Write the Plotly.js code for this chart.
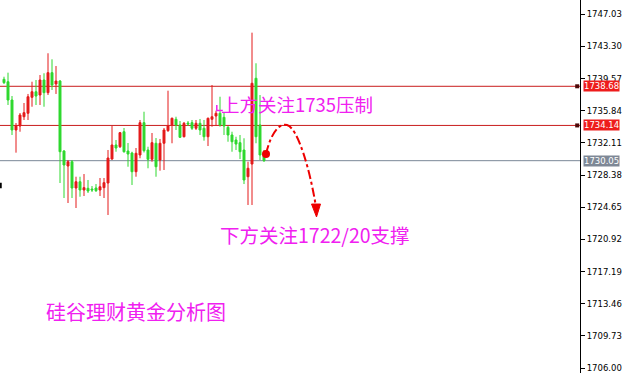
<!DOCTYPE html>
<html>
<head>
<meta charset="utf-8">
<script src="https://cdn.plot.ly/plotly-3.0.1.min.js"></script>
<style>
  html, body { margin: 0; padding: 0; background: #fff; }
  #chart { width: 630px; height: 373px; }
</style>
</head>
<body>
<div id="chart"></div>
<script>
// Gold (XAUUSD) short-term candles, oldest to newest
const openPrices = [
  1739.49, 1739.21, 1737.09, 1733.61, 1734.07, 1735.15, 1735.55, 1737.40, 1738.05, 1737.67,
  1739.41, 1737.94, 1740.26, 1738.95, 1739.29, 1731.17, 1729.43, 1729.93, 1726.88, 1727.61,
  1726.65, 1726.85, 1726.76, 1726.88, 1726.65, 1726.92, 1727.46, 1730.24, 1731.87, 1731.67,
  1733.41, 1731.17, 1730.94, 1728.77, 1730.71, 1734.46, 1731.29, 1730.21, 1732.07, 1730.13,
  1732.07, 1733.53, 1734.19, 1734.85, 1734.19, 1732.83, 1734.42, 1734.46, 1733.81, 1734.39,
  1733.81, 1732.83, 1734.85, 1735.23, 1735.55, 1735.08, 1733.92, 1733.03, 1732.45, 1732.14,
  1731.29, 1728.19, 1729.66, 1739.61, 1734.19, 1730.91
];
const highPrices = [
  1739.79, 1740.26, 1737.55, 1734.42, 1735.58, 1736.74, 1737.79, 1739.21, 1739.41, 1739.99,
  1740.19, 1742.51, 1741.81, 1741.03, 1739.41, 1731.29, 1730.13, 1730.13, 1728.19, 1728.19,
  1728.50, 1727.81, 1727.11, 1727.34, 1728.04, 1728.04, 1731.29, 1734.07, 1732.45, 1733.38,
  1733.84, 1732.10, 1731.09, 1731.52, 1734.77, 1735.73, 1731.67, 1733.26, 1732.68, 1732.57,
  1733.84, 1738.17, 1735.05, 1735.15, 1734.65, 1734.54, 1734.65, 1734.77, 1734.77, 1734.89,
  1734.77, 1735.05, 1738.83, 1735.85, 1737.47, 1735.58, 1734.07, 1733.41, 1732.83, 1733.03,
  1732.65, 1729.93, 1744.90, 1741.35, 1737.67, 1731.29
];
const lowPrices = [
  1738.95, 1736.51, 1733.03, 1730.98, 1733.41, 1734.77, 1734.77, 1736.31, 1736.51, 1736.51,
  1736.31, 1737.67, 1738.25, 1737.79, 1727.46, 1725.72, 1725.14, 1725.72, 1724.56, 1725.87,
  1725.95, 1726.30, 1726.42, 1726.42, 1725.95, 1725.72, 1723.75, 1730.15, 1731.09, 1731.52,
  1730.98, 1729.35, 1727.23, 1728.19, 1730.33, 1731.00, 1729.17, 1729.93, 1728.19, 1728.89,
  1728.97, 1733.40, 1732.07, 1733.61, 1732.68, 1732.75, 1734.07, 1733.61, 1733.61, 1733.03,
  1732.37, 1731.75, 1733.99, 1734.07, 1733.99, 1733.03, 1732.25, 1731.09, 1731.29, 1730.24,
  1727.34, 1724.91, 1724.91, 1732.07, 1730.13, 1729.90
];
const closePrices = [
  1739.10, 1737.09, 1733.61, 1734.07, 1735.35, 1735.62, 1737.47, 1738.05, 1737.55, 1739.41,
  1737.94, 1740.26, 1738.83, 1739.29, 1731.09, 1729.55, 1729.93, 1726.88, 1727.61, 1726.65,
  1726.92, 1726.53, 1726.65, 1726.57, 1727.03, 1727.50, 1730.36, 1731.87, 1731.52, 1733.30,
  1731.09, 1730.82, 1728.77, 1730.91, 1734.46, 1731.21, 1730.21, 1732.14, 1729.35, 1732.07,
  1733.61, 1734.07, 1734.97, 1734.19, 1732.76, 1734.39, 1734.31, 1733.81, 1734.39, 1733.61,
  1732.83, 1734.97, 1735.15, 1735.55, 1734.19, 1734.07, 1733.03, 1732.25, 1731.98, 1731.09,
  1727.81, 1729.17, 1739.03, 1732.83, 1730.71, 1730.05
];
const barIndex = openPrices.map((_, i) => i);

// Price axis ticks
const priceTicks = [1747.03, 1743.30, 1739.57, 1735.84, 1732.11, 1728.38,
                    1724.65, 1720.92, 1717.19, 1713.46, 1709.73, 1706.00];

// Horizontal levels: two resistance lines and the current price line
const levelPrices = [1738.68, 1734.14, 1730.05];
const levelColors = ['#c81c1c', '#c81c1c', '#7b8898'];
const levelTagColors = ['#ee1c1c', '#ee1c1c', '#7e8896'];

// Projected path drawn as a dash-dot arrow (bar index, price)
const pathStart = [65.5, 1730.82];
const pathCurve = [
  [66.75, 1733.26], [68.75, 1734.42], [70.75, 1734.19],
  [73.5, 1733.84], [76.5, 1728.97], [78.0, 1724.68]
];
const pathHead = [[76.875, 1725.02], [79.125, 1725.02], [78.125, 1723.52]];

// Commentary labels
const noteUpper = '上方关注1735压制';
const noteLower = '下方关注1722/20支撑';
const brandText = '硅谷理财黄金分析图';

const RED = '#e41a1a';
const GREEN = '#2ed82e';
const MAGENTA = '#f020f0';
const CJK = '"Noto Sans CJK SC", "Noto Sans", sans-serif';

const candles = {
  type: 'candlestick',
  x: barIndex,
  open: openPrices, high: highPrices, low: lowPrices, close: closePrices,
  increasing: { line: { color: RED, width: 1 }, fillcolor: RED },
  decreasing: { line: { color: GREEN, width: 1 }, fillcolor: GREEN },
  whiskerwidth: 0,
  hoverinfo: 'skip'
};

const levelEnds = {
  type: 'scatter', mode: 'markers',
  x: [143.3, 143.3], y: levelPrices.slice(0, 2),
  marker: { symbol: 'square', size: 4, color: '#4a0808' },
  cliponaxis: false, hoverinfo: 'skip'
};

const startDot = {
  type: 'scatter', mode: 'markers',
  x: [pathStart[0]], y: [pathStart[1]],
  marker: { size: 8, color: '#ee0000' },
  hoverinfo: 'skip'
};

const shapes = levelPrices.map((p, i) => ({
  type: 'line', xref: 'paper', x0: 0, x1: 1, yref: 'y', y0: p, y1: p,
  line: { color: levelColors[i], width: 1 }, layer: 'below'
}));

const c = pathCurve;
shapes.push({
  type: 'path', xref: 'x', yref: 'y',
  path: `M ${pathStart[0]},${pathStart[1]} C ${c[0][0]},${c[0][1]} ${c[1][0]},${c[1][1]} ${c[2][0]},${c[2][1]} ` +
        `C ${c[3][0]},${c[3][1]} ${c[4][0]},${c[4][1]} ${c[5][0]},${c[5][1]}`,
  line: { color: '#ee0000', width: 2, dash: 'dashdot' }
});
shapes.push({
  type: 'path', xref: 'x', yref: 'y',
  path: `M ${pathHead[0][0]},${pathHead[0][1]} L ${pathHead[1][0]},${pathHead[1][1]} L ${pathHead[2][0]},${pathHead[2][1]} Z`,
  fillcolor: '#ee0000', line: { color: '#ee0000', width: 1 }
});
// small bracket tying the upper note to the candles
shapes.push({
  type: 'path', xref: 'x', yref: 'y',
  path: 'M 53.2,1736.51 L 53.2,1735.87 L 54.7,1735.87',
  line: { color: MAGENTA, width: 1.5 }
});
// edge marker at the left border
shapes.push({
  type: 'rect', xref: 'paper', x0: 0, x1: 0.003, yref: 'y', y0: 1726.85, y1: 1727.49,
  fillcolor: '#000', line: { width: 0 }
});

const annotations = levelPrices.map((p, i) => ({
  xref: 'paper', x: 1, xanchor: 'left', xshift: 3,
  yref: 'y', y: p, yanchor: 'middle',
  text: p.toFixed(2), showarrow: false,
  bgcolor: levelTagColors[i], borderpad: 0,
  font: { family: 'DejaVu Sans', size: 8.5, color: '#ffffff' }
}));
annotations.push(
  { xref: 'x', yref: 'y', x: 53.8, y: 1736.62, xanchor: 'left', yanchor: 'middle',
    text: noteUpper, showarrow: false,
    font: { family: CJK, size: 18.5, color: MAGENTA } },
  { xref: 'x', yref: 'y', x: 53.6, y: 1721.43, xanchor: 'left', yanchor: 'middle',
    text: noteLower, showarrow: false,
    font: { family: CJK, size: 19.5, color: MAGENTA } },
  { xref: 'x', yref: 'y', x: 10.0, y: 1712.5, xanchor: 'left', yanchor: 'middle',
    text: brandText, showarrow: false,
    font: { family: CJK, size: 20, color: MAGENTA } }
);

const layout = {
  width: 630, height: 373,
  margin: { l: 0, r: 50, t: 0, b: 0, pad: 0 },
  paper_bgcolor: '#ffffff', plot_bgcolor: '#ffffff',
  showlegend: false,
  xaxis: { range: [-1, 144], visible: false, fixedrange: true, rangeslider: { visible: false } },
  yaxis: {
    side: 'right', range: [1705.42, 1748.69],
    tickvals: priceTicks, tickformat: '.2f',
    ticks: 'outside', ticklen: 4, tickcolor: '#000', tickwidth: 1,
    showline: true, linecolor: '#000', linewidth: 1,
    showgrid: false, zeroline: false, fixedrange: true,
    tickfont: { family: 'DejaVu Sans', size: 8.5, color: '#000' }
  },
  shapes: shapes,
  annotations: annotations
};

Plotly.newPlot('chart', [candles, levelEnds, startDot], layout, { staticPlot: true, displayModeBar: false });
</script>
</body>
</html>
